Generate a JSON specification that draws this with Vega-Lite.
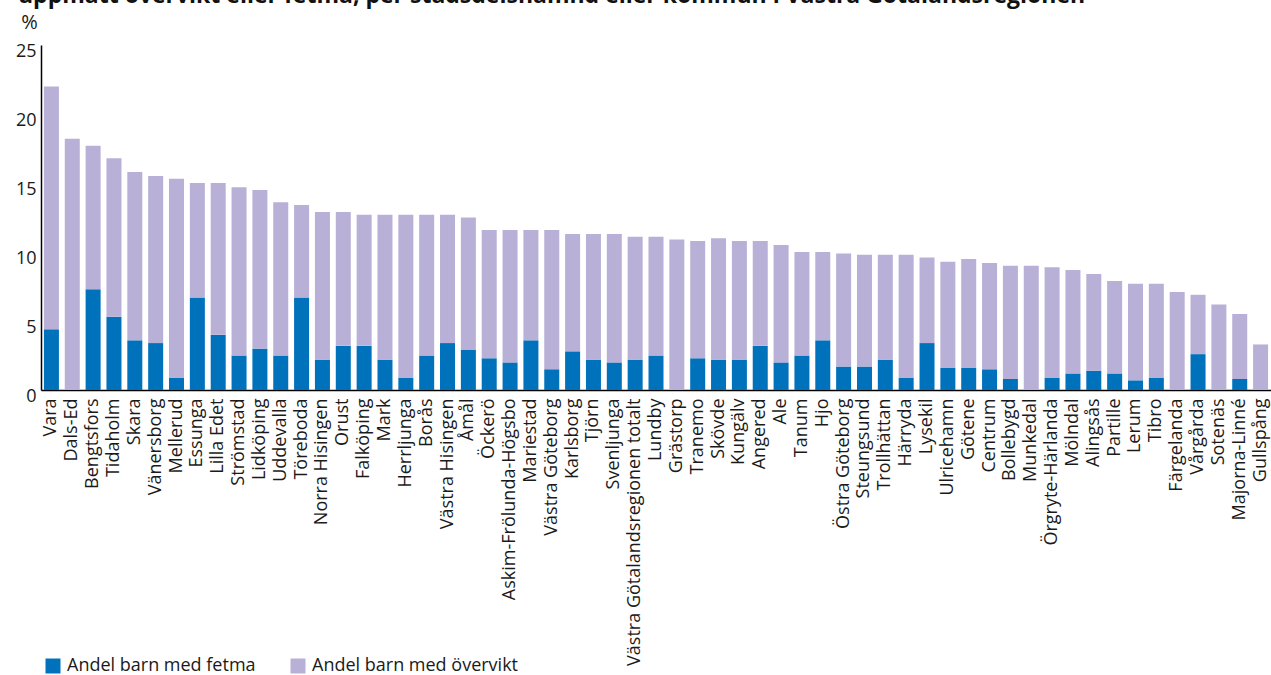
{
  "$schema": "https://vega.github.io/schema/vega-lite/v6.json",
  "autosize": "none",
  "width": 1230,
  "height": 345,
  "padding": {"left": 41, "top": 45, "right": 0, "bottom": 285},
  "background": "white",
  "config": {
    "view": {"stroke": null},
    "font": "Open Sans"
  },
  "title": {
    "text": "uppmätt övervikt eller fetma, per stadsdelsnämnd eller kommun i Västra Götalandsregionen",
    "anchor": "start",
    "frame": "group",
    "orient": "top",
    "offset": 0,
    "dx": -23,
    "dy": 14,
    "fontSize": 23,
    "fontWeight": "bold",
    "color": "#111111",
    "baseline": "alphabetic",
    "font": "Open Sans"
  },
  "data": {
    "values": [
      {"omrade": "Vara", "fetma": 4.4, "overvikt": 17.6},
      {"omrade": "Dals-Ed", "fetma": null, "overvikt": 18.2},
      {"omrade": "Bengtsfors", "fetma": 7.3, "overvikt": 10.4},
      {"omrade": "Tidaholm", "fetma": 5.3, "overvikt": 11.5},
      {"omrade": "Skara", "fetma": 3.6, "overvikt": 12.2},
      {"omrade": "Vänersborg", "fetma": 3.4, "overvikt": 12.1},
      {"omrade": "Mellerud", "fetma": 0.9, "overvikt": 14.4},
      {"omrade": "Essunga", "fetma": 6.7, "overvikt": 8.3},
      {"omrade": "Lilla Edet", "fetma": 4.0, "overvikt": 11.0},
      {"omrade": "Strömstad", "fetma": 2.5, "overvikt": 12.2},
      {"omrade": "Lidköping", "fetma": 3.0, "overvikt": 11.5},
      {"omrade": "Uddevalla", "fetma": 2.5, "overvikt": 11.1},
      {"omrade": "Töreboda", "fetma": 6.7, "overvikt": 6.7},
      {"omrade": "Norra Hisingen", "fetma": 2.2, "overvikt": 10.7},
      {"omrade": "Orust", "fetma": 3.2, "overvikt": 9.7},
      {"omrade": "Falköping", "fetma": 3.2, "overvikt": 9.5},
      {"omrade": "Mark", "fetma": 2.2, "overvikt": 10.5},
      {"omrade": "Herrljunga", "fetma": 0.9, "overvikt": 11.8},
      {"omrade": "Borås", "fetma": 2.5, "overvikt": 10.2},
      {"omrade": "Västra Hisingen", "fetma": 3.4, "overvikt": 9.3},
      {"omrade": "Åmål", "fetma": 2.9, "overvikt": 9.6},
      {"omrade": "Öckerö", "fetma": 2.3, "overvikt": 9.3},
      {"omrade": "Askim-Frölunda-Högsbo", "fetma": 2.0, "overvikt": 9.6},
      {"omrade": "Mariestad", "fetma": 3.6, "overvikt": 8.0},
      {"omrade": "Västra Göteborg", "fetma": 1.5, "overvikt": 10.1},
      {"omrade": "Karlsborg", "fetma": 2.8, "overvikt": 8.5},
      {"omrade": "Tjörn", "fetma": 2.2, "overvikt": 9.1},
      {"omrade": "Svenljunga", "fetma": 2.0, "overvikt": 9.3},
      {"omrade": "Västra Götalandsregionen totalt", "fetma": 2.2, "overvikt": 8.9},
      {"omrade": "Lundby", "fetma": 2.5, "overvikt": 8.6},
      {"omrade": "Grästorp", "fetma": null, "overvikt": 10.9},
      {"omrade": "Tranemo", "fetma": 2.3, "overvikt": 8.5},
      {"omrade": "Skövde", "fetma": 2.2, "overvikt": 8.8},
      {"omrade": "Kungälv", "fetma": 2.2, "overvikt": 8.6},
      {"omrade": "Angered", "fetma": 3.2, "overvikt": 7.6},
      {"omrade": "Ale", "fetma": 2.0, "overvikt": 8.5},
      {"omrade": "Tanum", "fetma": 2.5, "overvikt": 7.5},
      {"omrade": "Hjo", "fetma": 3.6, "overvikt": 6.4},
      {"omrade": "Östra Göteborg", "fetma": 1.7, "overvikt": 8.2},
      {"omrade": "Steungsund", "fetma": 1.7, "overvikt": 8.1},
      {"omrade": "Trollhättan", "fetma": 2.2, "overvikt": 7.6},
      {"omrade": "Härryda", "fetma": 0.9, "overvikt": 8.9},
      {"omrade": "Lysekil", "fetma": 3.4, "overvikt": 6.2},
      {"omrade": "Ulricehamn", "fetma": 1.6, "overvikt": 7.7},
      {"omrade": "Götene", "fetma": 1.6, "overvikt": 7.9},
      {"omrade": "Centrum", "fetma": 1.5, "overvikt": 7.7},
      {"omrade": "Bollebygd", "fetma": 0.8, "overvikt": 8.2},
      {"omrade": "Munkedal", "fetma": null, "overvikt": 9.0},
      {"omrade": "Örgryte-Härlanda", "fetma": 0.9, "overvikt": 8.0},
      {"omrade": "Mölndal", "fetma": 1.2, "overvikt": 7.5},
      {"omrade": "Alingsås", "fetma": 1.4, "overvikt": 7.0},
      {"omrade": "Partille", "fetma": 1.2, "overvikt": 6.7},
      {"omrade": "Lerum", "fetma": 0.7, "overvikt": 7.0},
      {"omrade": "Tibro", "fetma": 0.9, "overvikt": 6.8},
      {"omrade": "Färgelanda", "fetma": null, "overvikt": 7.1},
      {"omrade": "Vårgårda", "fetma": 2.6, "overvikt": 4.3},
      {"omrade": "Sotenäs", "fetma": null, "overvikt": 6.2},
      {"omrade": "Majorna-Linné", "fetma": 0.8, "overvikt": 4.7},
      {"omrade": "Gullspång", "fetma": null, "overvikt": 3.3}
    ]
  },
  "transform": [
    {"fold": ["fetma", "overvikt"], "as": ["serie", "andel"]}
  ],
  "mark": {"type": "bar"},
  "encoding": {
    "x": {
      "field": "omrade",
      "type": "nominal",
      "sort": null,
      "scale": {"paddingInner": 0.28, "paddingOuter": 0.14},
      "axis": {
        "title": null,
        "labelAngle": -90,
        "labelAlign": "right",
        "labelBaseline": "middle",
        "labelFontSize": 18,
        "labelColor": "#1a1a1a",
        "labelPadding": 8,
        "labelLimit": 400,
        "labelOverlap": false,
        "ticks": false,
        "domainColor": "#000000",
        "domainWidth": 1.5
      }
    },
    "y": {
      "field": "andel",
      "type": "quantitative",
      "stack": "zero",
      "scale": {"domain": [0, 25], "nice": false},
      "axis": {
        "values": [0, 5, 10, 15, 20, 25],
        "grid": false,
        "ticks": false,
        "domainColor": "#000000",
        "domainWidth": 1.5,
        "labelFontSize": 18,
        "labelColor": "#1a1a1a",
        "labelPadding": 5,
        "labelOffset": 6,
        "title": "%",
        "titleAngle": 0,
        "titleX": -12,
        "titleY": -23,
        "titleAlign": "center",
        "titleBaseline": "middle",
        "titleFontSize": 20,
        "titleFontWeight": "normal",
        "titleColor": "#1a1a1a"
      }
    },
    "color": {
      "field": "serie",
      "type": "nominal",
      "scale": {"domain": ["fetma", "overvikt"], "range": ["#0072BB", "#B9B0D7"]},
      "legend": {
        "title": null,
        "orient": "none",
        "direction": "horizontal",
        "legendX": 3,
        "legendY": 612,
        "symbolType": "square",
        "symbolSize": 225,
        "symbolStrokeWidth": 0,
        "symbolOpacity": 1,
        "labelFontSize": 18,
        "labelColor": "#1a1a1a",
        "labelOffset": 5,
        "labelLimit": 400,
        "columnPadding": 33,
        "labelExpr": "datum.label == 'fetma' ? 'Andel barn med fetma' : 'Andel barn med övervikt'"
      }
    },
    "order": {"field": "serie", "sort": "ascending"}
  }
}
